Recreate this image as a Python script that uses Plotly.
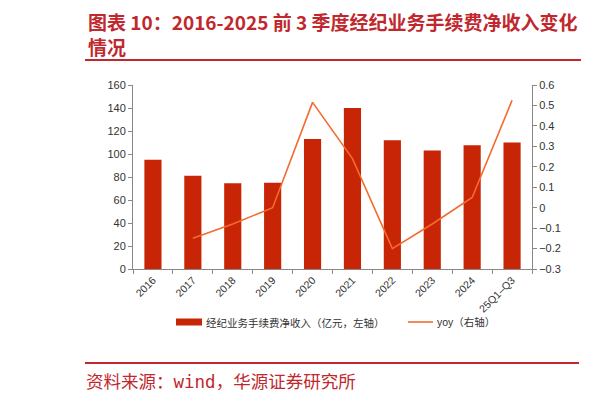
import plotly.graph_objects as go

# data
categories = ["2016", "2017", "2018", "2019", "2020", "2021", "2022", "2023", "2024", "25Q1–Q3"]
net_income = [95, 81, 74.5, 75, 113, 140, 112, 103, 107.6, 110]
yoy = [None, -0.15, -0.08, 0.0, 0.515, 0.24, -0.2, -0.08, 0.05, 0.525]

# the page body has an 8px margin, so the figure is a bit smaller than the window
OFF = 8
W, H = 614 - OFF, 401 - OFF
L, R, T, B = 133, 532, 85, 269   # plot area in window pixels

RED = "#C0282E"
BAR = "#C82506"
LINE = "#F26B2F"
AXIS = "#888888"
CJK = "Noto Sans CJK SC"


def px(x):
    return (x - L) / (R - L)


def py(y):
    return (B - y) / (B - T)


fig = go.Figure()
fig.add_trace(go.Bar(
    x=categories, y=net_income, width=0.43,
    marker=dict(color=BAR, line=dict(width=0)),
    name="经纪业务手续费净收入（亿元，左轴）",
))
fig.add_trace(go.Scatter(
    x=categories, y=yoy, yaxis="y2", mode="lines",
    line=dict(color=LINE, width=1.6),
    name="yoy（右轴）",
))

tick_font = dict(family="Liberation Sans, Arial", size=11, color="#333333")

fig.update_layout(
    width=W, height=H,
    margin=dict(l=L - OFF, r=614 - R, t=T - OFF, b=401 - B),
    paper_bgcolor="white", plot_bgcolor="white",
    showlegend=False,
    xaxis=dict(
        type="category", tickson="boundaries", ticks="outside", ticklen=4,
        tickcolor=AXIS, showline=True, linecolor=AXIS, linewidth=1,
        tickangle=-45, tickfont=dict(family="Liberation Sans, Arial", size=10.5, color="#333333"),
        showgrid=False,
    ),
    yaxis=dict(
        range=[0, 160], dtick=20, ticks="outside", ticklen=4, tickcolor=AXIS,
        showline=True, linecolor=AXIS, showgrid=False, zeroline=False,
        tickfont=tick_font,
    ),
    yaxis2=dict(
        range=[-0.3, 0.6], dtick=0.1, overlaying="y", side="right",
        ticks="outside", ticklen=4, tickcolor=AXIS,
        showline=True, linecolor=AXIS, showgrid=False, zeroline=False,
        tickfont=tick_font,
    ),
)

# title, rules and source
ann = [
    dict(text="<b>图表 10：2016-2025 前 3 季度经纪业务手续费净收入变化</b>",
         x=px(86), y=py(21), xanchor="left", yanchor="middle",
         font=dict(family=CJK, size=19, color=RED)),
    dict(text="<b>情况</b>", x=px(86), y=py(47), xanchor="left", yanchor="middle",
         font=dict(family=CJK, size=19, color=RED)),
    dict(text="资料来源：wind，华源证券研究所", x=px(84), y=py(382),
         xanchor="left", yanchor="middle",
         font=dict(family="DejaVu Sans Mono, " + CJK, size=17.5, color=RED)),
    # custom legend texts
    dict(text="经纪业务手续费净收入（亿元，左轴）", x=px(204), y=py(322),
         xanchor="left", yanchor="middle",
         font=dict(family=CJK, size=10.5, color="#333333")),
    dict(text="yoy（右轴）", x=px(435), y=py(322), xanchor="left", yanchor="middle",
         font=dict(family="Liberation Sans, " + CJK, size=10.5, color="#333333")),
]
for a in ann:
    fig.add_annotation(xref="paper", yref="paper", showarrow=False, **a)

shapes = [
    dict(type="line", x0=px(85), x1=px(581), y0=py(60), y1=py(60), line=dict(color=RED, width=2)),
    dict(type="line", x0=px(609), x1=px(620), y0=py(60), y1=py(60), line=dict(color=RED, width=2)),
    dict(type="line", x0=px(85), x1=px(579), y0=py(363), y1=py(363), line=dict(color=RED, width=2)),
    dict(type="line", x0=px(609), x1=px(620), y0=py(363), y1=py(363), line=dict(color=RED, width=2)),
    # edge of the neighbouring chart's title, cut off by the page
    dict(type="rect", x0=px(609), x1=px(611), y0=py(14), y1=py(28),
         fillcolor=RED, line=dict(width=0)),
    # custom legend swatches
    dict(type="rect", x0=px(176), x1=px(202), y0=py(318.5), y1=py(325.5),
         fillcolor=BAR, line=dict(width=0)),
    dict(type="line", x0=px(408), x1=px(433), y0=py(322), y1=py(322), line=dict(color=LINE, width=1.6)),
]
for s in shapes:
    fig.add_shape(xref="paper", yref="paper", **s)

fig.write_html("out.html")
